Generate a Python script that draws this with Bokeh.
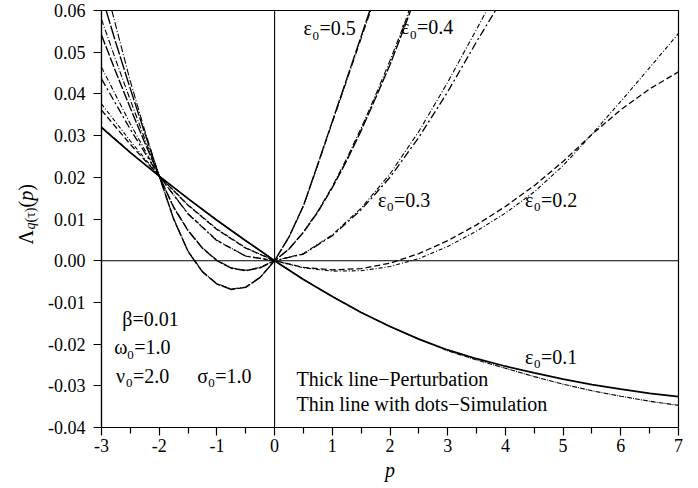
from math import pi
from bokeh.plotting import figure
from bokeh.layouts import row
from bokeh.models import Range1d, FixedTicker, NumeralTickFormatter, Span, Label, ColumnDataSource
from bokeh.embed import file_html
from bokeh.resources import INLINE

# ---------------- data ----------------
P_HALF = [-3, -2.5, -2, -1.5, -1, -0.5, 0, 0.5, 1, 1.5, 2, 2.5, 3, 3.5, 4, 4.5, 5, 5.5, 6, 6.5, 7]

# eps0 = 0.1
E1_PERT = [0.0319, 0.0259, 0.0203, 0.0149, 0.0097, 0.0048, 0.0, -0.0045, -0.0086, -0.0124, -0.0158,
           -0.0188, -0.0214, -0.0235, -0.0253, -0.0269, -0.0284, -0.0297, -0.0308, -0.0318, -0.0326]
E1_SIM = [0.0321, 0.0260, 0.0203, 0.0149, 0.0097, 0.0048, 0.0, -0.0045, -0.0086, -0.0124, -0.0158,
          -0.0188, -0.0216, -0.0238, -0.0258, -0.0278, -0.0296, -0.0312, -0.0325, -0.0337, -0.0347]

# eps0 = 0.2
E2_PERT = [0.0361, 0.0279, 0.0203, 0.0133, 0.0075, 0.0030, 0.0, -0.0016, -0.0022, -0.0019, -0.0006,
           0.0017, 0.0048, 0.0086, 0.0130, 0.0180, 0.0238, 0.0303, 0.0362, 0.0412, 0.0453]
E2_SIM = [0.0376, 0.0287, 0.0203, 0.0134, 0.0076, 0.0031, 0.0, -0.0017, -0.0025, -0.0024, -0.0014,
          0.0005, 0.0034, 0.0071, 0.0114, 0.0165, 0.0228, 0.0303, 0.0382, 0.0463, 0.0545]

# eps0 = 0.3
E3_P_PERT = [-3, -2.5, -2, -1.5, -1, -0.5, 0, 0.5, 1, 1.5, 2, 2.5, 3, 3.5, 3.85]
E3_PERT = [0.0436, 0.0315, 0.0203, 0.0112, 0.0048, 0.0011, 0.0, 0.0016, 0.0060, 0.0122, 0.0200,
           0.0296, 0.0405, 0.0525, 0.0605]
E3_P_SIM = [-3, -2.5, -2, -1.5, -1, -0.5, 0, 0.5, 1, 1.5, 2, 2.5, 3, 3.5, 3.7]
E3_SIM = [0.0464, 0.0328, 0.0203, 0.0113, 0.0049, 0.0011, 0.0, 0.0017, 0.0062, 0.0126, 0.0208,
          0.0310, 0.0428, 0.0555, 0.0606]

# eps0 = 0.4
E4_P_PERT = [-3, -2.75, -2.5, -2.25, -2, -1.75, -1.5, -1.25, -1, -0.75, -0.5, -0.25, 0,
             0.25, 0.5, 0.75, 1, 1.25, 1.5, 1.75, 2, 2.25, 2.37]
E4_PERT = [0.0541, 0.0452, 0.0366, 0.0283, 0.0203, 0.0128, 0.0072, 0.0030, 0.0000, -0.0018, -0.0024,
           -0.0017, 0.0, 0.0028, 0.0068, 0.0117, 0.0175, 0.0240, 0.0312, 0.0390, 0.0470, 0.0560, 0.0605]
E4_P_SIM = [-3, -2.75, -2.5, -2.25, -2, -1.75, -1.5, -1.25, -1, -0.75, -0.5, -0.25, 0,
            0.25, 0.5, 0.75, 1, 1.25, 1.5, 1.75, 2, 2.25, 2.33]
E4_SIM = [0.0579, 0.0480, 0.0385, 0.0292, 0.0203, 0.0129, 0.0073, 0.0031, 0.0001, -0.0017, -0.0023,
          -0.0016, 0.0, 0.0028, 0.0069, 0.0119, 0.0178, 0.0245, 0.0318, 0.0397, 0.0480, 0.0568, 0.0600]

# eps0 = 0.5
E5_P_PERT = [-2.92, -2.75, -2.5, -2.25, -2, -1.75, -1.5, -1.25, -1, -0.75, -0.5, -0.25, 0,
             0.25, 0.5, 0.75, 1, 1.25, 1.5, 1.65]
E5_PERT = [0.0600, 0.0522, 0.0412, 0.0306, 0.0203, 0.0100, 0.0022, -0.0027, -0.0056, -0.0069, -0.0064,
           -0.0040, 0.0, 0.0057, 0.0132, 0.0232, 0.0334, 0.0436, 0.0538, 0.0600]
E5_P_SIM = [-2.82, -2.75, -2.5, -2.25, -2, -1.75, -1.5, -1.25, -1, -0.75, -0.5, -0.25, 0,
            0.25, 0.5, 0.75, 1, 1.25, 1.5, 1.68]
E5_SIM = [0.0600, 0.0562, 0.0430, 0.0312, 0.0203, 0.0101, 0.0023, -0.0026, -0.0055, -0.0068, -0.0063,
          -0.0040, 0.0, 0.0057, 0.0131, 0.0230, 0.0331, 0.0432, 0.0533, 0.0605]

X_TICKS = [-3, -2, -1, 0, 1, 2, 3, 4, 5, 6, 7]
X_MINOR = [-2.5, -1.5, -0.5, 0.5, 1.5, 2.5, 3.5, 4.5, 5.5, 6.5]
Y_TICKS = [-0.04, -0.03, -0.02, -0.01, 0.0, 0.01, 0.02, 0.03, 0.04, 0.05, 0.06]

EPS_LABELS = ["0.5", "0.4", "0.3", "0.2", "0.1"]
EPS_POS = [(0.5, 0.0541), (2.19, 0.0543), (1.79, 0.0130), (4.34, 0.0130), (4.34, -0.0247)]

FONT = "Liberation Serif"

# ---------------- layout sizes ----------------
H = 484
LW = 45          # narrow strip carrying the rotated y-axis title
MW = 649         # main plot

# ---------------- y-title strip (frames of a row are aligned, so it shares the y scale) ----------------
t = figure(width=LW, height=H, output_backend="svg", toolbar_location=None, title=None,
           x_axis_location=None, y_axis_location=None,
           x_range=Range1d(0, LW), y_range=Range1d(-0.04, 0.06),
           min_border_left=0, min_border_right=0, min_border_top=10, min_border_bottom=57)
t.xgrid.visible = False
t.ygrid.visible = False
t.outline_line_color = None
t.background_fill_color = "white"
t.border_fill_color = "white"

def tlab(x, y, s, size, style="normal"):
    t.add_layout(Label(x=x, y=y, text=s, text_font=FONT, text_font_size=size,
                       text_font_style=style, text_color="black", angle=pi / 2,
                       text_align="left", text_baseline="middle"))

tlab(25.2, 0.00388, "Λ", "20px")
tlab(30.2, 0.00748, "q", "14px", "italic")
tlab(30.2, 0.00916, "(τ)", "14px")
tlab(25.2, 0.01276, "(", "20px")
tlab(25.2, 0.01436, "p", "20px", "italic")
tlab(25.2, 0.01676, ")", "20px")

# ---------------- main figure ----------------
p = figure(width=MW, height=H, output_backend="svg", toolbar_location=None,
           x_range=Range1d(-3, 7), y_range=Range1d(-0.04, 0.06),
           min_border_left=52, min_border_right=16, min_border_top=10, min_border_bottom=57)
p.background_fill_color = "white"
p.border_fill_color = "white"
p.outline_line_color = "black"
p.outline_line_width = 1.2
p.xgrid.visible = False
p.ygrid.visible = False

for ax in (p.xaxis[0], p.yaxis[0]):
    ax.axis_line_color = "black"
    ax.axis_line_width = 1.2
    ax.major_tick_line_color = "black"
    ax.major_tick_line_width = 1.2
    ax.major_tick_in = 0
    ax.major_tick_out = 8
    ax.major_label_text_font = FONT
    ax.major_label_text_font_size = "18px"
    ax.major_label_text_color = "black"

p.xaxis[0].ticker = FixedTicker(ticks=X_TICKS, minor_ticks=X_MINOR)
p.xaxis[0].formatter = NumeralTickFormatter(format="0")
p.xaxis[0].minor_tick_line_color = "black"
p.xaxis[0].minor_tick_line_width = 1.2
p.xaxis[0].minor_tick_in = 0
p.xaxis[0].minor_tick_out = 6
p.xaxis[0].major_label_standoff = 3
p.xaxis[0].axis_label = "p"
p.xaxis[0].axis_label_text_font = FONT
p.xaxis[0].axis_label_text_font_style = "italic"
p.xaxis[0].axis_label_text_font_size = "20px"
p.xaxis[0].axis_label_text_color = "black"
p.xaxis[0].axis_label_standoff = 4

p.yaxis[0].ticker = FixedTicker(ticks=Y_TICKS)
p.yaxis[0].minor_tick_line_color = None
p.yaxis[0].formatter = NumeralTickFormatter(format="0.00")
p.yaxis[0].major_label_standoff = 8

p.add_layout(Span(location=0, dimension="width", line_color="black", line_width=1.1))
p.add_layout(Span(location=0, dimension="height", line_color="black", line_width=1.1))

# ---------------- curves ----------------
curves = [
    (P_HALF, E1_PERT, None, 1.7),
    (P_HALF, E1_SIM, "5 1 1 1", 1.1),
    (P_HALF, E2_PERT, "6 3", 1.3),
    (P_HALF, E2_SIM, "4 2 1 2", 1.1),
    (E3_P_PERT, E3_PERT, "8 3 2 3", 1.3),
    (E3_P_SIM, E3_SIM, "5 2 1 2", 1.1),
    (E4_P_PERT, E4_PERT, "10 2", 1.4),
    (E4_P_SIM, E4_SIM, "6 2 1 2", 1.1),
    (E5_P_PERT, E5_PERT, "14 2", 1.4),
    (E5_P_SIM, E5_SIM, "7 2 1 2", 1.1),
]
for xs, ys, dash, w in curves:
    src = ColumnDataSource(data=dict(x=xs, y=ys))
    if dash is None:
        p.line("x", "y", source=src, line_color="black", line_width=w)
    else:
        p.line("x", "y", source=src, line_color="black", line_width=w, line_dash=dash)

# ---------------- text (anchor = text middle; lift by 0.34 em to sit on the read baseline) ----------------
def txt(x, y, s, size=20, style="normal", xo=0, yo=0):
    p.add_layout(Label(x=x, y=y, text=s, text_font=FONT, text_font_size=f"{size}px",
                       text_font_style=style, text_color="black", x_offset=xo,
                       y_offset=yo + 0.34 * size, text_align="left", text_baseline="middle"))

def sub_txt(x, y, base, sub, rest, bw):
    txt(x, y, base)
    txt(x, y, sub, size=13, xo=bw, yo=-5)
    txt(x, y, rest, xo=bw + 7)

for (ex, ey), lab in zip(EPS_POS, EPS_LABELS):
    sub_txt(ex, ey, "ε", "0", "=" + lab, 9)

txt(-2.64, -0.0157, "β=0.01")
sub_txt(-2.78, -0.0224, "ω", "0", "=1.0", 13)
sub_txt(-2.75, -0.0293, "ν", "0", "=2.0", 10)
sub_txt(-1.34, -0.0293, "σ", "0", "=1.0", 11)
txt(0.38, -0.0301, "Thick line\u2212Perturbation")
txt(0.38, -0.0360, "Thin line with dots\u2212Simulation")

layout = row(t, p)
open("out.html", "w").write(file_html(layout, INLINE))
